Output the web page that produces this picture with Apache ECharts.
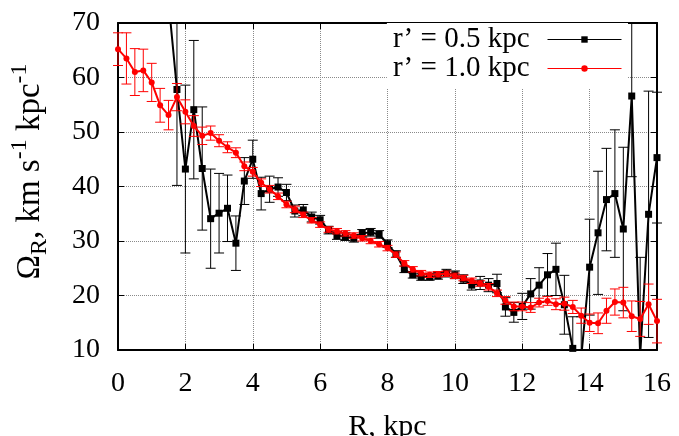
<!DOCTYPE html>
<html>
<head>
<meta charset="utf-8">
<script src="https://cdn.jsdelivr.net/npm/echarts@6/dist/echarts.min.js"></script>
<style>
  html, body { margin: 0; padding: 0; background: #fff; }
  #chart { width: 679px; height: 436px; }
</style>
</head>
<body>
<div id="chart"></div>
<script>
// Galactocentric radius, kpc
const radius = [0, 0.25, 0.5, 0.75, 1, 1.25, 1.5, 1.75, 2, 2.25, 2.5, 2.75, 3, 3.25, 3.5, 3.75,
  4, 4.25, 4.5, 4.75, 5, 5.25, 5.5, 5.75, 6, 6.25, 6.5, 6.75, 7, 7.25, 7.5, 7.75,
  8, 8.25, 8.5, 8.75, 9, 9.25, 9.5, 9.75, 10, 10.25, 10.5, 10.75, 11, 11.25, 11.5, 11.75,
  12, 12.25, 12.5, 12.75, 13, 13.25, 13.5, 13.75, 14, 14.25, 14.5, 14.75, 15, 15.25, 15.5, 15.75, 16];

// Angular velocity for r' = 0.5 kpc (km s^-1 kpc^-1) and its uncertainty
const omegaHalf = [null, null, null, null, null, null,
  74.0, 57.8, 43.2, 54.1, 43.3, 34.1, 35.1, 36.0, 29.6, 41.0,
  45.0, 38.7, 39.5, 39.9, 38.9, 35.5, 35.7, 34.4, 33.9, 32.0, 31.0, 30.8, 30.5, 31.4, 31.6, 31.2,
  29.5, 27.6, 24.8, 23.8, 23.4, 23.4, 23.6, 24.1, 23.8, 23.0, 21.9, 22.3, 21.9, 22.2, 17.9, 16.9,
  18.0, 20.3, 21.9, 23.8, 24.8, 18.3, 10.3, 8.6, 25.2, 31.5, 37.6, 38.7, 32.2, 56.6, 9.0, 34.9, 45.3];
const errHalf = [null, null, null, null, null, null,
  3.0, 17.6, 15.4, 12.7, 11.3, 9.1, 7.3, 6.1, 5.0, 4.3,
  3.5, 3.0, 2.4, 1.7, 1.5, 1.1, 1.0, 0.9, 0.8, 0.7, 0.7, 0.7, 0.7, 0.7, 0.7, 0.7,
  0.7, 0.6, 0.6, 0.6, 0.6, 0.6, 0.6, 0.7, 0.7, 0.8, 0.9, 1.2, 1.2, 1.7, 1.7, 1.8,
  2.4, 2.8, 3.2, 3.9, 4.8, 5.4, 5.8, 7.5, 8.8, 11.3, 9.4, 11.7, 15.0, 14.8, 18.0, 22.6, 12.0];

// Angular velocity for r' = 1.0 kpc and its uncertainty
const omegaOne = [65.2, 63.5, 61.0, 61.3, 59.1, 54.9, 53.1, 56.4, 53.7, 51.1, 49.3, 49.8, 48.4, 47.2, 46.2, 43.7,
  42.7, 40.7, 39.5, 38.2, 36.7, 35.8, 34.8, 33.8, 33.0, 32.1, 31.8, 31.4, 31.0, 30.5, 30.0, 29.4,
  28.7, 27.5, 25.9, 24.8, 24.1, 23.8, 23.9, 24.0, 23.6, 23.2, 22.7, 22.2, 21.6, 20.4, 19.1, 18.0,
  18.0, 17.8, 18.7, 19.0, 18.4, 18.5, 17.9, 16.3, 15.0, 14.9, 17.2, 18.8, 18.7, 16.2, 15.7, 18.4, 15.3];
const errOne = [3.0, 4.7, 4.3, 3.9, 3.5, 3.1, 2.7, 2.5, 2.2, 1.9, 1.6, 1.3, 1.1, 1.0, 0.9, 0.8,
  0.8, 0.7, 0.7, 0.6, 0.6, 0.6, 0.5, 0.5, 0.5, 0.5, 0.5, 0.5, 0.5, 0.5, 0.5, 0.5,
  0.5, 0.5, 0.5, 0.5, 0.5, 0.5, 0.5, 0.5, 0.5, 0.5, 0.5, 0.5, 0.6, 0.6, 0.7, 0.8,
  0.8, 0.9, 0.8, 0.8, 1.0, 1.2, 1.2, 1.4, 1.6, 1.9, 2.3, 2.4, 2.8, 2.8, 3.2, 3.7, 4.0];

const seriesNames = ['r\u2019 = 0.5 kpc', 'r\u2019 = 1.0 kpc'];
const xTicks = { min: 0, max: 16, interval: 2 };
const yTicks = { min: 10, max: 70, interval: 10 };

const serif = '"Liberation Serif", "DejaVu Serif", serif';

function pairs(xs, ys) {
  return xs.map((x, i) => [x, ys[i]]);
}

// Vertical error bars with end caps, clipped to the plotting area
function errorBars(id, xs, ys, es, color, z) {
  const data = [];
  xs.forEach((x, i) => {
    if (ys[i] != null) data.push([x, ys[i] - es[i], ys[i] + es[i]]);
  });
  return {
    id: id,
    type: 'custom',
    silent: true,
    z: z,
    xAxisIndex: 0,
    yAxisIndex: 0,
    encode: { x: 0, y: [1, 2] },
    data: data,
    renderItem: function (params, api) {
      const lo = api.coord([api.value(0), api.value(1)]);
      const hi = api.coord([api.value(0), api.value(2)]);
      const cs = params.coordSys;
      const top = cs.y, bottom = cs.y + cs.height;
      const x = lo[0];
      const yLo = Math.min(lo[1], bottom), yHi = Math.max(hi[1], top);
      if (yHi >= bottom || yLo <= top) return null;
      const style = { stroke: color, lineWidth: 1 };
      const half = 5;
      const children = [{ type: 'line', shape: { x1: x, y1: yLo, x2: x, y2: yHi }, style: style }];
      if (lo[1] <= bottom) children.push({ type: 'line', shape: { x1: x - half, y1: lo[1], x2: x + half, y2: lo[1] }, style: style });
      if (hi[1] >= top) children.push({ type: 'line', shape: { x1: x - half, y1: hi[1], x2: x + half, y2: hi[1] }, style: style });
      return { type: 'group', children: children };
    }
  };
}

const gridLine = { show: true, lineStyle: { color: '#8a8a8a', type: 'dotted', width: 1 } };
const frame = { show: true, onZero: false, lineStyle: { color: '#000', width: 2 } };
const ticksIn = { show: true, inside: true, length: 6, lineStyle: { color: '#000', width: 1 } };

const chart = echarts.init(document.getElementById('chart'));
chart.setOption({
  backgroundColor: '#fff',
  animation: false,
  grid: { left: 118, right: 22, top: 23, bottom: 86, outerBoundsMode: 'none' },
  legend: {
    data: seriesNames,
    orient: 'vertical',
    align: 'right',
    right: 51,
    top: 23,
    itemWidth: 74,
    itemHeight: 8,
    itemGap: 0,
    padding: [2, 6, 6, 6],
    backgroundColor: '#fff',
    lineStyle: { width: 1 },
    textStyle: { fontFamily: serif, fontSize: 29, color: '#000', lineHeight: 29, padding: [0, 13, 0, 0] }
  },
  xAxis: [
    Object.assign({}, xTicks, {
      type: 'value', position: 'bottom',
      axisLine: frame, axisTick: ticksIn, splitLine: gridLine,
      axisLabel: { fontFamily: serif, fontSize: 28, color: '#000', margin: 20 },
      name: 'R, kpc', nameLocation: 'middle', nameGap: 62,
      nameTextStyle: { fontFamily: serif, fontSize: 30, color: '#000' }
    }),
    Object.assign({}, xTicks, {
      type: 'value', position: 'top',
      axisLine: frame, axisTick: ticksIn, splitLine: { show: false }, axisLabel: { show: false }
    })
  ],
  yAxis: [
    Object.assign({}, yTicks, {
      type: 'value', position: 'left',
      axisLine: frame, axisTick: ticksIn, splitLine: gridLine,
      axisLabel: { fontFamily: serif, fontSize: 28, color: '#000', margin: 18 },
      name: '{a|\u03A9}{sub|R}{a|, km s}{sup|-1}{a| kpc}{sup|-1}',
      nameLocation: 'middle', nameRotate: 90, nameGap: 66,
      nameTextStyle: {
        padding: [0, 0, 0, 30],
        rich: {
          a: { fontFamily: serif, fontSize: 33, color: '#000', lineHeight: 44 },
          sub: { fontFamily: serif, fontSize: 24, color: '#000', lineHeight: 24, verticalAlign: 'bottom' },
          sup: { fontFamily: serif, fontSize: 24, color: '#000', lineHeight: 24, verticalAlign: 'top' }
        }
      }
    }),
    Object.assign({}, yTicks, {
      type: 'value', position: 'right',
      axisLine: frame, axisTick: ticksIn, splitLine: { show: false }, axisLabel: { show: false }
    })
  ],
  series: [
    errorBars('errHalf', radius, omegaHalf, errHalf, '#000', 2),
    {
      name: seriesNames[0], type: 'line', z: 3, clip: true,
      data: pairs(radius, omegaHalf),
      symbol: 'rect', symbolSize: 7,
      itemStyle: { color: '#000' },
      lineStyle: { color: '#000', width: 2 }
    },
    errorBars('errOne', radius, omegaOne, errOne, '#ff0000', 4),
    {
      name: seriesNames[1], type: 'line', z: 5, clip: true,
      data: pairs(radius, omegaOne),
      symbol: 'circle', symbolSize: 6,
      itemStyle: { color: '#ff0000' },
      lineStyle: { color: '#ff0000', width: 2 }
    }
  ]
});
</script>
</body>
</html>
